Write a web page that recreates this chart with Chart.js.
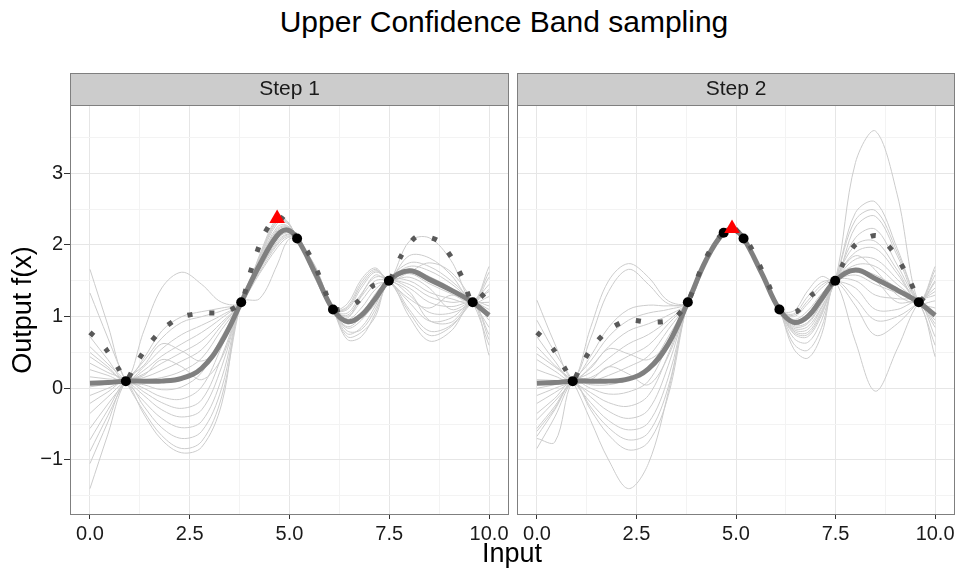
<!DOCTYPE html>
<html>
<head>
<meta charset="utf-8">
<title>Upper Confidence Band sampling</title>
<script src="https://cdn.jsdelivr.net/npm/chart.js@4.4.1/dist/chart.umd.min.js"></script>
<style>
  html, body { margin:0; padding:0; background:#ffffff; }
  body { width:958px; height:571px; position:relative; overflow:hidden; font-family:"Liberation Sans", Arial, Helvetica, sans-serif; }
  canvas { position:absolute; top:0; }
  #c1 { left:0; }
  #c2 { left:512px; }
  .lbl { position:absolute; white-space:nowrap; color:#000; }
  #mainTitle { font-size:30px; line-height:30px; top:7px; left:504px; transform:translateX(-50%); }
  #xTitle { font-size:27px; line-height:27px; top:540px; left:512px; transform:translateX(-50%); }
</style>
</head>
<body>
<div id="mainTitle" class="lbl">Upper Confidence Band sampling</div>
<canvas id="c1" width="512" height="571"></canvas>
<canvas id="c2" width="446" height="571"></canvas>
<div id="xTitle" class="lbl">Input</div>
<script>
// ---------------- data ----------------
const panelNames = ['Step 1', 'Step 2'];

// x positions at which mean and sample curves are read
const xGrid = [0,0.45,0.9,1.35,1.8,2.3,2.8,3.3,3.79,4.25,4.69,4.95,5.19,5.65,6.09,6.45,6.8,7.15,7.49,8.0,8.5,9.05,9.59,10];

// observed points
const obsX1 = [0.9, 3.79, 5.19, 6.09, 7.49, 9.59];
const obsY1 = [0.1, 1.2, 2.09, 1.1, 1.5, 1.2];
const obsX2 = [0.9, 3.79, 4.69, 5.19, 6.09, 7.49, 9.59];
const obsY2 = [0.1, 1.2, 2.17, 2.09, 1.1, 1.5, 1.2];

// next sample (red triangle)
const nextX = [4.69, 4.9];
const nextY = [2.37, 2.23];

// posterior mean
const mean1 = [0.07,0.08,0.10,0.10,0.10,0.14,0.28,0.65,1.20,1.72,2.13,2.21,2.09,1.60,1.10,0.93,1.02,1.25,1.50,1.64,1.52,1.37,1.20,1.02];
const mean2 = [0.07,0.08,0.10,0.10,0.10,0.13,0.27,0.62,1.20,1.79,2.17,2.21,2.09,1.60,1.10,0.92,1.00,1.25,1.50,1.65,1.53,1.37,1.20,1.02];

// upper confidence band
const ucbX1 = [0,0.2,0.41,0.72,0.9,1.11,1.42,1.79,2.26,2.82,3.38,3.79,3.98,4.16,4.36,4.69,4.95,5.19,5.44,5.7,5.9,6.09,6.4,6.69,7.09,7.49,7.82,8.2,8.72,9.08,9.34,9.59,9.98];
const ucbY1 = [0.78,0.68,0.54,0.27,0.10,0.30,0.57,0.81,0.99,1.05,1.06,1.20,1.55,1.86,2.15,2.40,2.30,2.09,1.92,1.63,1.34,1.10,1.12,1.20,1.43,1.50,1.87,2.12,2.06,1.81,1.53,1.20,1.37];
const ucbX2 = [0,0.2,0.42,0.71,0.9,1.1,1.4,1.79,2.28,2.84,3.41,3.79,3.99,4.21,4.5,4.69,4.9,5.19,5.35,5.59,5.83,6.09,6.3,6.55,6.92,7.49,7.7,8.01,8.52,8.93,9.25,9.48,9.59,9.82,10];
const ucbY2 = [0.78,0.68,0.54,0.27,0.10,0.31,0.58,0.81,0.95,0.92,0.96,1.20,1.48,1.78,2.06,2.17,2.26,2.09,1.99,1.72,1.43,1.10,1.05,1.08,1.31,1.50,1.75,2.01,2.13,1.92,1.63,1.36,1.20,1.33,1.40];

// posterior sample curves (values at xGrid)
const samples1 = [
 [1.66,0.88,0.1,0.05,-0.02,0.02,0.22,0.72,1.2,1.72,2.13,2.21,2.09,1.60,1.1,0.68,0.72,1.05,1.5,1.66,1.56,1.40,1.2,1.70],
 [1.33,0.70,0.1,-0.32,-0.66,-0.84,-0.74,-0.12,1.2,1.80,2.30,2.30,2.09,1.66,1.1,1.10,1.40,1.62,1.5,1.20,0.94,0.98,1.2,0.95],
 [0.72,0.40,0.1,0.80,1.40,1.62,1.45,1.20,1.2,1.86,2.38,2.33,2.09,1.70,1.1,0.90,1.05,1.30,1.5,1.10,0.80,0.88,1.2,1.35],
 [0.58,0.34,0.1,-0.18,-0.42,-0.55,-0.46,0.14,1.2,1.65,2.05,2.15,2.09,1.56,1.1,1.14,1.48,1.66,1.5,2.05,2.10,1.78,1.2,1.55],
 [0.44,0.27,0.1,0.25,0.45,0.62,0.78,0.98,1.2,1.60,1.96,2.10,2.09,1.54,1.1,0.76,0.85,1.15,1.5,1.00,0.66,0.80,1.2,0.46],
 [0.35,0.22,0.1,-0.36,-0.72,-0.90,-0.82,-0.22,1.2,1.25,1.72,2.06,2.09,1.52,1.1,1.00,1.22,1.45,1.5,1.85,1.82,1.58,1.2,1.28],
 [0.26,0.18,0.1,0.42,0.80,1.00,1.07,1.12,1.2,1.75,2.20,2.25,2.09,1.63,1.1,0.84,0.95,1.22,1.5,1.40,1.20,1.14,1.2,1.05],
 [0.16,0.13,0.1,-0.10,-0.30,-0.40,-0.30,0.30,1.2,1.78,2.25,2.27,2.09,1.65,1.1,1.18,1.52,1.68,1.5,1.62,1.75,1.62,1.2,0.60],
 [0.02,0.06,0.1,0.20,0.35,0.50,0.66,0.92,1.2,1.70,2.10,2.18,2.09,1.58,1.1,0.94,1.00,1.22,1.5,1.30,1.06,1.05,1.2,1.45],
 [-0.21,-0.05,0.1,-0.25,-0.55,-0.70,-0.60,0.00,1.2,1.68,2.08,2.17,2.09,1.61,1.1,0.80,0.82,1.10,1.5,1.75,1.70,1.50,1.2,0.85],
 [-0.56,-0.22,0.1,0.38,0.70,0.92,1.00,1.08,1.2,1.82,2.33,2.31,2.09,1.68,1.1,1.05,1.32,1.55,1.5,1.06,0.74,0.86,1.2,1.15],
 [-0.72,-0.30,0.1,0.12,0.15,0.24,0.42,0.82,1.2,1.74,2.16,2.22,2.09,1.62,1.1,0.72,0.78,1.00,1.5,1.50,1.34,1.25,1.2,1.62],
 [-0.88,-0.38,0.1,0.32,0.62,0.52,0.38,0.60,1.2,1.62,2.00,2.12,2.09,1.55,1.1,0.96,1.12,1.38,1.5,1.45,1.28,1.20,1.2,0.75],
 [-1.05,-0.47,0.1,-0.05,-0.20,-0.28,-0.16,0.44,1.2,1.77,2.22,2.26,2.09,1.64,1.1,0.86,1.00,1.32,1.5,1.60,1.46,1.32,1.2,1.38],
 [-1.40,-0.64,0.1,0.15,0.25,0.38,0.54,0.88,1.2,1.69,2.12,2.19,2.09,1.59,1.1,1.02,1.28,1.50,1.5,1.35,0.95,0.92,1.2,0.68],
 [-0.10,0.00,0.1,0.00,-0.12,-0.15,0.02,0.58,1.2,1.84,2.35,2.32,2.09,1.69,1.1,0.92,0.98,1.18,1.5,1.70,1.64,1.46,1.2,1.00],
 [0.50,0.30,0.1,0.30,0.55,0.75,0.88,1.02,1.2,1.73,2.18,2.23,2.09,1.57,1.1,0.98,1.30,1.58,1.5,1.55,1.40,1.10,1.2,1.10],
 [-0.35,-0.12,0.1,0.18,0.40,0.30,0.12,0.42,1.2,1.66,2.02,2.14,2.09,1.53,1.1,1.12,1.44,1.64,1.5,1.25,1.12,1.30,1.2,1.20]
];
const samples2 = [
 [1.23,0.62,0.1,0.10,0.18,0.30,0.45,0.82,1.2,1.78,2.17,2.20,2.09,1.60,1.1,0.55,0.42,0.75,1.5,1.65,1.58,1.40,1.2,1.70],
 [0.95,0.50,0.1,-0.45,-1.00,-1.40,-1.05,-0.05,1.2,1.80,2.17,2.21,2.09,1.62,1.1,1.08,1.36,1.56,1.5,2.25,2.40,1.85,1.2,1.22],
 [0.72,0.38,0.1,0.85,1.50,1.74,1.55,1.22,1.2,1.76,2.17,2.19,2.09,1.58,1.1,0.76,0.72,1.02,1.5,1.50,1.30,1.25,1.2,0.44],
 [0.58,0.32,0.1,-0.20,-0.45,-0.58,-0.48,0.15,1.2,1.79,2.17,2.20,2.09,1.61,1.1,0.92,1.00,1.26,1.5,3.15,3.59,2.70,1.2,1.58],
 [0.40,0.24,0.1,0.30,0.58,0.80,0.90,1.02,1.2,1.81,2.17,2.22,2.09,1.63,1.1,0.62,0.53,0.85,1.5,1.72,1.70,1.45,1.2,0.95],
 [0.26,0.17,0.1,0.70,1.35,1.66,1.45,1.18,1.2,1.77,2.17,2.20,2.09,1.59,1.1,1.00,1.18,1.40,1.5,0.65,-0.04,0.55,1.2,1.30],
 [0.12,0.11,0.1,-0.12,-0.32,-0.42,-0.30,0.32,1.2,1.78,2.17,2.19,2.09,1.60,1.1,0.84,0.86,1.14,1.5,2.10,2.22,1.72,1.2,1.12],
 [0.00,0.05,0.1,0.45,0.85,1.10,1.16,1.15,1.2,1.80,2.17,2.21,2.09,1.62,1.1,1.04,1.28,1.48,1.5,1.40,1.10,1.10,1.2,0.72],
 [-0.21,-0.06,0.1,0.22,0.42,0.62,0.75,0.95,1.2,1.75,2.17,2.20,2.09,1.57,1.1,0.70,0.64,0.95,1.5,1.90,1.95,1.60,1.2,1.48],
 [-0.35,-0.14,0.1,-0.30,-0.65,-0.86,-0.75,-0.10,1.2,1.79,2.17,2.18,2.09,1.61,1.1,0.96,1.08,1.32,1.5,1.58,1.45,1.33,1.2,0.85],
 [-0.44,-0.18,0.1,0.38,0.72,0.95,1.05,1.10,1.2,1.82,2.17,2.21,2.09,1.63,1.1,0.80,0.78,1.08,1.5,2.35,2.48,1.90,1.2,1.02],
 [-0.56,-0.25,0.1,0.05,0.05,0.12,0.28,0.72,1.2,1.77,2.17,2.20,2.09,1.59,1.1,0.88,0.92,1.20,1.5,1.25,0.95,1.00,1.2,1.40],
 [-0.67,-0.30,0.1,-0.26,-0.55,-0.72,-0.62,0.02,1.2,1.78,2.17,2.22,2.09,1.60,1.1,0.90,0.96,1.22,1.5,1.80,1.80,1.52,1.2,0.60],
 [-0.84,-0.40,0.1,0.15,0.30,0.45,0.60,0.90,1.2,1.80,2.17,2.19,2.09,1.62,1.1,0.78,0.75,1.05,1.5,2.00,2.05,1.65,1.2,1.65],
 [-0.70,-0.75,0.1,0.00,-0.08,-0.05,0.10,0.62,1.2,1.76,2.17,2.20,2.09,1.58,1.1,1.02,1.22,1.44,1.5,1.15,0.74,0.90,1.2,1.35],
 [0.48,0.30,0.1,-0.06,-0.20,-0.25,-0.10,0.48,1.2,1.79,2.17,2.21,2.09,1.61,1.1,0.82,0.82,1.12,1.5,2.45,2.60,1.95,1.2,1.05],
 [-0.10,0.00,0.1,0.28,0.55,0.48,0.40,0.65,1.2,1.81,2.17,2.20,2.09,1.62,1.1,0.94,1.04,1.30,1.5,1.62,1.50,1.20,1.2,0.90],
 [-0.60,-0.28,0.1,0.12,0.30,0.20,0.05,0.45,1.2,1.78,2.17,2.20,2.09,1.60,1.1,0.86,0.90,1.18,1.5,1.85,1.65,1.30,1.2,1.50]
];

// axes
const xMajor = [0, 2.5, 5, 7.5, 10];
const xMajorLabels = ['0.0', '2.5', '5.0', '7.5', '10.0'];
const xMinor = [1.25, 3.75, 6.25, 8.75];
const yMajor = [-1, 0, 1, 2, 3];
const yMajorLabels = ['\u22121', '0', '1', '2', '3'];
const yMinor = [-1.5, -0.5, 0.5, 1.5, 2.5, 3.5];
const xRange = [-0.5, 10.5];
const yRange = [-1.768, 3.953];

// ---------------- drawing ----------------
const FONT = '"Liberation Sans", Arial, Helvetica, sans-serif';
Chart.defaults.font.family = FONT;

const isMajorX = v => xMajor.some(m => Math.abs(m - v) < 1e-9);
const isMajorY = v => yMajor.some(m => Math.abs(m - v) < 1e-9);

function buildDatasets(samples, mean, ucbX, ucbY, obsX, obsY, tx, ty) {
  const ds = [];
  ds.push({ data: [{x: tx, y: ty}], showLine: false, pointStyle: 'triangle', pointRadius: 9,
            pointBackgroundColor: '#ff0000', pointBorderWidth: 0, order: 0 });
  ds.push({ data: obsX.map((x, i) => ({x, y: obsY[i]})), showLine: false, pointStyle: 'circle',
            pointRadius: 5, pointBackgroundColor: '#000000', pointBorderWidth: 0, order: 1 });
  ds.push({ data: ucbX.map((x, i) => ({x, y: ucbY[i]})), showLine: true, pointRadius: 0,
            borderColor: '#595959', borderWidth: 5, borderDash: [5, 17], borderCapStyle: 'butt',
            tension: 0.25, order: 2 });
  ds.push({ data: xGrid.map((x, i) => ({x, y: mean[i]})), showLine: true, pointRadius: 0,
            borderColor: '#808080', borderWidth: 5, borderJoinStyle: 'round', tension: 0.4, order: 3 });
  samples.forEach(row => ds.push({ data: xGrid.map((x, i) => ({x, y: row[i]})), showLine: true,
            pointRadius: 0, borderColor: '#cccccc', borderWidth: 1, tension: 0.35, order: 4 }));
  return ds;
}

const STRIP_TOP = 73;
const panelDeco = {
  id: 'panelDeco',
  beforeDraw(chart) {
    const {ctx, chartArea: a} = chart;
    ctx.save();
    ctx.fillStyle = '#cccccc';
    ctx.fillRect(a.left, STRIP_TOP, a.right - a.left, a.top - STRIP_TOP);
    ctx.strokeStyle = '#7f7f7f';
    ctx.lineWidth = 1;
    ctx.strokeRect(a.left + 0.5, STRIP_TOP + 0.5, a.right - a.left - 1, a.top - STRIP_TOP);
    ctx.restore();
  },
  afterDraw(chart) {
    const {ctx, chartArea: a} = chart;
    ctx.save();
    ctx.strokeStyle = '#7f7f7f';
    ctx.lineWidth = 1;
    ctx.strokeRect(a.left + 0.5, a.top + 0.5, a.right - a.left - 1, a.bottom - a.top - 1);
    ctx.restore();
  }
};

function makeChart(canvasId, name, datasets, withYAxis, padLeft, padRight) {
  const xTicks = xMajor.concat(xMinor).sort((a, b) => a - b);
  const yTicks = yMajor.concat(yMinor).sort((a, b) => a - b);
  return new Chart(document.getElementById(canvasId), {
    type: 'scatter',
    data: { datasets },
    options: {
      responsive: false, animation: false, events: [], devicePixelRatio: 1,
      layout: { autoPadding: false, padding: { left: padLeft, right: padRight, top: STRIP_TOP, bottom: 0 } },
      plugins: {
        legend: { display: false },
        tooltip: { enabled: false },
        title: { display: true, text: name, fullSize: false, color: '#1a1a1a',
                 font: { family: FONT, size: 21, weight: 'normal', lineHeight: 1.2 },
                 padding: { top: 3.4, bottom: 3.4 } }
      },
      scales: {
        x: {
          type: 'linear', min: xRange[0], max: xRange[1],
          afterBuildTicks: s => { s.ticks = xTicks.map(v => ({ value: v })); },
          afterFit: s => { s.height = 56; s.paddingLeft = 0; s.paddingRight = 0; },
          border: { display: false },
          grid: {
            color: c => (c.tick && isMajorX(c.tick.value)) ? '#e6e6e6' : '#f3f3f3',
            lineWidth: 1,
            tickColor: c => (c.tick && isMajorX(c.tick.value)) ? '#333333' : 'rgba(0,0,0,0)',
            tickLength: 4, drawTicks: true
          },
          ticks: {
            autoSkip: false, maxRotation: 0, minRotation: 0, padding: 3, color: '#1a1a1a',
            font: { family: FONT, size: 20 },
            callback: v => { const i = xMajor.findIndex(m => Math.abs(m - v) < 1e-9); return i >= 0 ? xMajorLabels[i] : ''; }
          }
        },
        y: {
          type: 'linear', min: yRange[0], max: yRange[1],
          afterBuildTicks: s => { s.ticks = yTicks.map(v => ({ value: v })); },
          afterFit: s => { s.width = withYAxis ? 70 : 0; s.paddingTop = 0; s.paddingBottom = 0; },
          border: { display: false },
          title: withYAxis ? { display: true, text: 'Output f(x)', color: '#000000',
                   font: { family: FONT, size: 27, weight: 'normal', lineHeight: 1.2 },
                   padding: { top: 7, bottom: 0 } } : { display: false },
          grid: {
            color: c => (c.tick && isMajorY(c.tick.value)) ? '#e6e6e6' : '#f3f3f3',
            lineWidth: 1,
            tickColor: c => (withYAxis && c.tick && isMajorY(c.tick.value)) ? '#333333' : 'rgba(0,0,0,0)',
            tickLength: 6, drawTicks: withYAxis
          },
          ticks: {
            display: withYAxis, autoSkip: false, padding: 1, color: '#1a1a1a',
            font: { family: FONT, size: 20 },
            callback: v => { const i = yMajor.findIndex(m => Math.abs(m - v) < 1e-9); return i >= 0 ? yMajorLabels[i] : ''; }
          }
        }
      }
    },
    plugins: [panelDeco]
  });
}

makeChart('c1', panelNames[0],
  buildDatasets(samples1, mean1, ucbX1, ucbY1, obsX1, obsY1, nextX[0], nextY[0]), true, 0, 3);
makeChart('c2', panelNames[1],
  buildDatasets(samples2, mean2, ucbX2, ucbY2, obsX2, obsY2, nextX[1], nextY[1]), false, 5, 3);
</script>
</body>
</html>
